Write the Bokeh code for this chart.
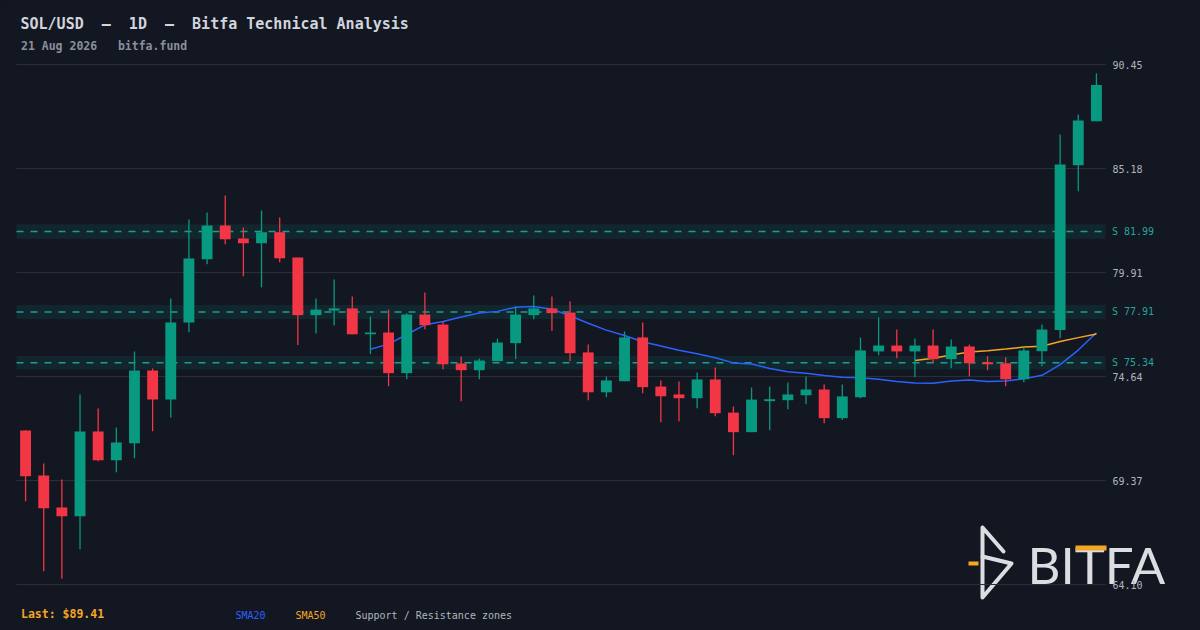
from bokeh.plotting import figure
from bokeh.models import (ColumnDataSource, Range1d, BoxAnnotation, Label, PolyAnnotation)
from bokeh.core.properties import value
from bokeh.embed import file_html
from bokeh.resources import INLINE

# ---------------- data ----------------
opens = [71.90, 69.62, 68.00, 67.56, 71.85, 70.40, 71.26, 74.94, 73.47, 77.38,
         80.58, 82.29, 81.63, 81.39, 81.95, 80.67, 77.75, 77.98, 78.09, 76.78,
         76.87, 74.81, 77.78, 77.27, 75.30, 74.96, 75.42, 76.33, 77.75, 78.09,
         77.88, 75.86, 73.84, 74.40, 76.62, 74.13, 73.73, 73.54, 74.49, 72.81,
         71.82, 73.39, 73.44, 73.69, 73.98, 72.53, 73.59, 75.91, 76.21, 75.91,
         76.21, 75.52, 76.16, 75.36, 75.31, 74.50, 75.92, 76.99, 85.35, 87.58]
highs = [71.90, 70.23, 69.42, 73.73, 73.02, 72.06, 75.91, 75.05, 78.59, 82.60,
         82.95, 83.81, 82.19, 83.05, 82.70, 80.67, 78.59, 79.56, 78.69, 77.68,
         78.03, 77.83, 78.90, 77.43, 75.65, 75.55, 76.56, 78.19, 78.74, 78.69,
         78.44, 76.26, 74.64, 76.92, 77.38, 74.44, 74.39, 74.84, 75.10, 73.12,
         74.08, 74.13, 74.34, 74.64, 74.23, 74.23, 76.62, 77.63, 77.02, 76.56,
         77.02, 76.51, 76.26, 75.67, 75.62, 76.12, 77.27, 86.90, 87.92, 89.99]
lows = [68.32, 64.77, 64.39, 65.89, 70.35, 69.79, 70.50, 71.87, 72.56, 76.88,
        80.33, 81.34, 79.72, 79.16, 80.43, 76.23, 76.82, 77.22, 76.78, 75.77,
        74.15, 74.50, 77.04, 75.01, 73.39, 74.50, 75.42, 75.52, 77.54, 76.94,
        75.42, 73.44, 73.59, 74.40, 73.79, 72.32, 72.37, 73.03, 72.63, 70.65,
        71.82, 71.92, 72.98, 73.24, 72.27, 72.43, 73.54, 75.72, 75.57, 74.60,
        75.31, 75.06, 74.65, 74.96, 74.15, 74.35, 75.16, 76.58, 84.03, 87.58]
closes = [69.59, 67.97, 67.56, 71.85, 70.40, 71.30, 74.94, 73.47, 77.38, 80.62,
          82.29, 81.60, 81.39, 81.95, 80.63, 77.75, 78.03, 78.09, 76.78, 76.87,
          74.81, 77.78, 77.24, 75.26, 74.96, 75.45, 76.36, 77.78, 78.09, 77.85,
          75.82, 73.84, 74.44, 76.62, 74.10, 73.64, 73.54, 74.49, 72.78, 71.82,
          73.47, 73.49, 73.73, 73.98, 72.53, 73.63, 75.96, 76.21, 75.91, 76.21,
          75.52, 76.16, 75.31, 75.26, 74.50, 75.96, 77.02, 85.38, 87.61, 89.41]

sma20_start = 19
sma20 = [76.02, 76.28, 76.77, 77.26, 77.43, 77.66, 77.86, 77.94, 78.15, 78.19,
         78.05, 77.72, 77.34, 76.99, 76.72, 76.40, 76.19, 75.97, 75.79, 75.59,
         75.33, 75.27, 75.05, 74.88, 74.81, 74.69, 74.60, 74.58, 74.50, 74.39,
         74.31, 74.30, 74.41, 74.46, 74.39, 74.41, 74.52, 74.70, 75.24, 75.98,
         76.86]
sma50_start = 49
sma50 = [75.45, 75.56, 75.73, 75.88, 75.95, 76.03, 76.13, 76.17, 76.41, 76.61, 76.79]

sr_levels = [81.99, 77.91, 75.34]
y_ticks = [64.10, 69.37, 74.64, 79.91, 85.18, 90.45]

NB = "\u00a0"  # keeps the double / triple spaces visible in SVG text
title_text = f"SOL/USD{NB*2}\u2014{NB*2}1D{NB*2}\u2014{NB*2}Bitfa Technical Analysis"
subtitle_text = f"21 Aug 2026{NB*3}bitfa.fund"
last_price = 89.41
legend_items = ["SMA20", "SMA50", "Support / Resistance zones"]
logo_text = "BITFA"

# ---------------- style ----------------
BG = "#131722"
GRID = "#2a2e39"
UP = "#089981"
DOWN = "#f23645"
BLUE = "#2962ff"
ORANGE = "#f5a623"
TEAL = "#26a69a"
AXIS_TXT = "#b2b5be"
LOGO = "#dcdde0"
MONO = "DejaVu Sans Mono"

W, H = 1200, 630
# pixel geometry of the price area (page pixels)
PL, PR = 16, 1105          # left / right edge of the price area
PT, PB = 64, 584           # pixel rows of the highest / lowest tick
n = len(closes)
ux = (PR - PL) / n                                  # px per candle
uy = (PB - PT) / (y_ticks[-1] - y_ticks[0])          # px per price unit
X_START = -0.5 - PL / ux
X_END = X_START + W / ux
Y_END = y_ticks[-1] + PT / uy
Y_START = Y_END - H / uy


def px_x(px):
    return X_START + px / ux


def px_y(py):
    return Y_END - py / uy


p = figure(width=W, height=H, title=None,
           x_range=Range1d(X_START, X_END), y_range=Range1d(Y_START, Y_END),
           x_axis_location=None, y_axis_location=None,
           output_backend="svg", toolbar_location=None,
           min_border=0, min_border_left=0, min_border_right=0,
           min_border_top=0, min_border_bottom=0,
           background_fill_color=BG, border_fill_color=BG, outline_line_color=None)
p.xgrid.visible = False
p.ygrid.visible = False

x_lo, x_hi = -0.5, n - 0.5

# logo (drawn first, underneath everything else)
p.add_layout(PolyAnnotation(xs=[px_x(982), px_x(1011), px_x(982)],
                            ys=[px_y(556), px_y(563), px_y(597)],
                            fill_alpha=0, line_color=LOGO, line_alpha=1, line_width=4,
                            line_join="round", level="underlay"))
p.add_layout(PolyAnnotation(xs=[px_x(982), px_x(982), px_x(1003), px_x(982)],
                            ys=[px_y(556), px_y(527), px_y(551), px_y(527)],
                            fill_alpha=0, line_color=LOGO, line_alpha=1, line_width=4,
                            line_join="round", level="underlay"))
p.add_layout(BoxAnnotation(left=px_x(968), right=px_x(978), top=px_y(561), bottom=px_y(565),
                           fill_color=ORANGE, fill_alpha=1, line_color=None, level="underlay"))
p.add_layout(Label(x=px_x(1027), y=px_y(563.5), text=logo_text, text_font="Lato",
                   text_font_size="51px", text_color=LOGO,
                   text_baseline="middle", text_align="left", level="underlay"))
p.add_layout(BoxAnnotation(left=px_x(1075), right=px_x(1106), top=px_y(545), bottom=px_y(550),
                           fill_color=ORANGE, fill_alpha=1, line_color=None, level="underlay"))

# support / resistance zones
for lvl in sr_levels:
    half = lvl * 0.0045
    p.add_layout(BoxAnnotation(left=x_lo, right=x_hi, bottom=lvl - half, top=lvl + half,
                               fill_color=UP, fill_alpha=0.12, line_color=None,
                               level="underlay"))

# horizontal price grid and price labels
p.segment(x0=[x_lo] * len(y_ticks), x1=[x_hi] * len(y_ticks), y0=y_ticks, y1=y_ticks,
          line_color=GRID, line_width=1)
p.text(x=[px_x(1112)] * len(y_ticks), y=y_ticks, text=[f"{t:.2f}" for t in y_ticks],
       text_font=value(MONO), text_font_size="10px", text_color=AXIS_TXT,
       text_baseline="middle", text_align="left")

p.segment(x0=[x_lo] * len(sr_levels), x1=[x_hi] * len(sr_levels), y0=sr_levels, y1=sr_levels,
          line_color=TEAL, line_dash="7 7", line_width=1.5, line_alpha=0.9)
p.text(x=[px_x(1111.5)] * len(sr_levels), y=sr_levels,
       text=[f"S {lvl:.2f}" for lvl in sr_levels],
       text_font=value(MONO), text_font_size="10px", text_color=TEAL,
       text_baseline="middle", text_align="left")

# moving averages (behind candles)
p.line(list(range(sma20_start, sma20_start + len(sma20))), sma20,
       line_color=BLUE, line_width=1.5)
p.line(list(range(sma50_start, sma50_start + len(sma50))), sma50,
       line_color=ORANGE, line_width=1.5)

# candles
xs = list(range(n))
colors = [UP if c >= o else DOWN for o, c in zip(opens, closes)]
src = ColumnDataSource(dict(
    x=xs, open=opens, high=highs, low=lows, close=closes,
    top=[max(o, c) for o, c in zip(opens, closes)],
    bottom=[min(o, c) for o, c in zip(opens, closes)],
    color=colors))
p.segment(x0="x", y0="low", x1="x", y1="high", line_color="color",
          line_width=1.3, source=src)
p.vbar(x="x", width=0.6, top="top", bottom="bottom", fill_color="color",
       line_color=None, source=src)

# header texts
p.add_layout(Label(x=px_x(20), y=px_y(23.5), text=title_text, text_font=MONO,
                   text_font_size="15px", text_font_style="bold", text_color="#d1d4dc",
                   text_baseline="middle", text_align="left"))
p.add_layout(Label(x=px_x(20.5), y=px_y(45), text=subtitle_text, text_font=MONO,
                   text_font_size="11.5px", text_font_style="bold", text_color="#8a8f9c",
                   text_baseline="middle", text_align="left"))

# footer
p.add_layout(Label(x=px_x(20.5), y=px_y(613), text=f"Last: ${last_price:.2f}",
                   text_font=MONO, text_font_size="11.5px", text_font_style="bold",
                   text_color=ORANGE, text_baseline="middle", text_align="left"))
for txt, xpos, col in zip(legend_items, [235, 295, 355], [BLUE, ORANGE, AXIS_TXT]):
    p.add_layout(Label(x=px_x(xpos), y=px_y(615), text=txt, text_font=MONO,
                       text_font_size="10px", text_color=col,
                       text_baseline="middle", text_align="left"))

html = file_html(p, INLINE, title="SOL/USD - Bitfa Technical Analysis")
html = html.replace("</head>", "<style>html, body { background-color: #131722; }</style></head>", 1)
open("out.html", "w").write(html)
